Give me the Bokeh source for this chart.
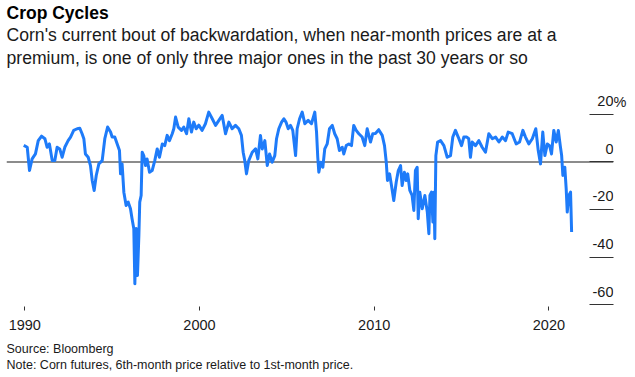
from bokeh.plotting import figure
from bokeh.models import Range1d, Span, Label, FixedTicker, Title, LinearAxis
from bokeh.embed import file_html
from bokeh.resources import INLINE

# ---------------- data ----------------
years = [
    1989.94, 1990.14, 1990.27, 1990.42, 1990.61, 1990.77, 1990.96, 1991.15, 1991.28, 1991.41,
    1991.57, 1991.72, 1991.85, 1992.00, 1992.14, 1992.29, 1992.48, 1992.62, 1992.80, 1993.00,
    1993.15, 1993.28, 1993.38, 1993.47, 1993.63, 1993.76, 1993.86, 1993.97, 1994.09, 1994.24,
    1994.43, 1994.58, 1994.74, 1994.91, 1995.00, 1995.15, 1995.29, 1995.42, 1995.48, 1995.57,
    1995.67, 1995.80, 1995.92, 1996.05, 1996.14, 1996.24, 1996.30, 1996.38, 1996.45, 1996.53,
    1996.58, 1996.66, 1996.72, 1996.81, 1996.91, 1997.00, 1997.14, 1997.29, 1997.44, 1997.58,
    1997.71, 1997.87, 1998.01, 1998.15, 1998.28, 1998.44, 1998.53, 1998.63, 1998.78, 1998.97,
    1999.10, 1999.26, 1999.39, 1999.54, 1999.67, 1999.81, 1999.96, 2000.15, 2000.34, 2000.53,
    2000.73, 2000.92, 2001.11, 2001.30, 2001.49, 2001.68, 2001.87, 2002.06, 2002.25, 2002.40,
    2002.50, 2002.59, 2002.69, 2002.82, 2003.02, 2003.21, 2003.34, 2003.49, 2003.59, 2003.74,
    2003.88, 2004.01, 2004.16, 2004.31, 2004.41, 2004.54, 2004.70, 2004.83, 2004.95, 2005.08,
    2005.21, 2005.34, 2005.50, 2005.59, 2005.73, 2005.88, 2006.03, 2006.22, 2006.41, 2006.60,
    2006.70, 2006.77, 2006.83, 2006.94, 2007.06, 2007.17, 2007.31, 2007.44, 2007.60, 2007.74,
    2007.88, 2008.01, 2008.17, 2008.26, 2008.40, 2008.55, 2008.70, 2008.83, 2008.97, 2009.12,
    2009.31, 2009.46, 2009.60, 2009.79, 2009.92, 2010.07, 2010.26, 2010.46, 2010.59, 2010.69,
    2010.76, 2010.88, 2010.99, 2011.12, 2011.26, 2011.38, 2011.51, 2011.60, 2011.73, 2011.83,
    2011.92, 2012.04, 2012.17, 2012.27, 2012.36, 2012.46, 2012.52, 2012.61, 2012.75, 2012.90,
    2013.04, 2013.13, 2013.19, 2013.28, 2013.36, 2013.42, 2013.47, 2013.53, 2013.63, 2013.80,
    2013.99, 2014.18, 2014.37, 2014.50, 2014.65, 2014.81, 2015.00, 2015.13, 2015.30, 2015.41,
    2015.51, 2015.61, 2015.80, 2015.99, 2016.18, 2016.37, 2016.56, 2016.76, 2016.95, 2017.14,
    2017.33, 2017.52, 2017.67, 2017.90, 2018.13, 2018.32, 2018.51, 2018.66, 2018.85, 2019.05,
    2019.25, 2019.39, 2019.52, 2019.65, 2019.77, 2019.91, 2020.04, 2020.15, 2020.28, 2020.42,
    2020.54, 2020.65, 2020.73, 2020.80, 2020.91, 2020.99, 2021.05, 2021.14, 2021.24, 2021.30,
]
values = [
    7.0, 6.2, -3.6, 1.3, 3.4, 9.0, 10.9, 9.8, 6.2, 7.6,
    0.6, 0.6, 6.2, 5.5, 2.0, 6.2, 9.0, 10.5, 13.3, 14.0,
    14.2, 11.9, 9.8, 3.4, 2.0, -1.5, -7.8, -12.0, -5.7, -0.8,
    0.6, 9.8, 14.7, 12.6, 10.5, 10.5, 7.6, 4.8, -5.0, -0.8,
    -12.7, -18.3, -16.9, -19.7, -23.9, -28.1, -51.3, -28.0, -47.8, -31.0,
    -16.9, -14.1, 4.1, 2.7, -1.5, 1.3, -4.3, -3.6, 0.6, 5.5,
    2.0, 7.6, 6.9, 11.2, 9.0, 11.9, 14.0, 18.9, 14.7, 13.3,
    14.7, 11.9, 18.2, 12.6, 16.8, 14.0, 15.5, 13.3, 16.1, 21.0,
    18.2, 15.4, 17.5, 19.6, 11.9, 16.8, 14.0, 15.4, 14.0, 11.2,
    4.1, 0.6, -5.0, 0.6, 4.1, 5.5, 1.3, 11.2, 5.5, 9.0,
    -1.5, 3.4, -0.1, 2.7, 9.8, 14.0, 16.8, 18.2, 16.8, 14.0,
    15.4, 13.3, 2.7, 14.0, 18.2, 21.0, 16.1, 17.5, 16.1, 21.0,
    12.6, 2.0, -4.3, -0.1, -2.2, 5.5, 7.6, 14.0, 15.4, 11.9,
    9.8, 4.8, 6.2, 3.4, 6.9, 7.6, 6.9, 15.4, 13.3, 11.9,
    10.5, 6.9, 14.0, 8.4, 11.9, 12.0, 13.6, 11.2, 6.9, 0.0,
    -7.8, -5.0, -9.9, -16.2, -8.5, -3.6, -1.5, -9.9, -4.3, -7.8,
    -5.0, -12.0, -14.1, -20.4, -3.6, -2.2, -23.9, -12.7, -19.7, -14.1,
    -21.1, -30.2, -14.1, -12.7, -25.3, -12.7, -32.3, 2.7, 8.4, 9.0,
    6.9, 2.0, 2.7, 10.5, 13.3, 10.5, 6.9, 10.5, 10.5, 9.8,
    2.0, 8.4, 6.9, 9.0, 6.2, 4.1, 11.9, 9.8, 10.5, 8.4,
    10.5, 9.0, 12.6, 11.9, 7.6, 8.4, 13.3, 10.5, 7.6, 9.8,
    14.0, 4.8, -0.8, 12.6, 2.7, 7.6, 6.9, 3.4, 13.3, 8.4,
    13.3, 6.9, 2.7, -5.7, -2.2, -11.3, -21.1, -14.1, -12.7, -29.5,
]
x_ticks = [1990, 2000, 2010, 2020]
y_ticks = [20, 0, -20, -40, -60]
y_tick_labels = ["20", "0", "-20", "-40", "-60"]
unit_label = "%"

title_text = "Crop Cycles"
subtitle_text = ("Corn's current bout of backwardation, when near-month prices are at a\n"
                 "premium, is one of only three major ones in the past 30 years or so")
footer_text = ("Source: Bloomberg\n"
               "Note: Corn futures, 6th-month price relative to 1st-month price.")

# ---------------- styling ----------------
FONT = "Liberation Sans"
BLUE = "#1e7bf9"
TEXT = "#1a1a1a"

x_start, x_end = 1988.953, 2023.698
y_start, y_end = -60.84, 30.1
FRAME_H = 216
label_lift = 12 * (y_end - y_start) / FRAME_H   # px lift expressed in data units

p = figure(
    width=635, height=377, output_backend="svg", toolbar_location=None,
    x_range=Range1d(x_start, x_end), y_range=Range1d(y_start, y_end),
    y_axis_location="right", title_location=None,
    min_border_left=6, min_border_right=22, min_border_top=90, min_border_bottom=71,
)
p.background_fill_color = "white"
p.border_fill_color = "white"
p.outline_line_color = None
p.xgrid.visible = False
p.ygrid.visible = False

# x axis
xa = p.xaxis[0]
xa.ticker = FixedTicker(ticks=x_ticks)
xa.axis_line_color = None
xa.major_tick_in = 0
xa.major_tick_out = 4
xa.major_tick_line_color = "#333333"
xa.minor_tick_line_color = None
xa.major_label_standoff = 9
xa.major_label_text_font = FONT
xa.major_label_text_font_size = "14.5px"
xa.major_label_text_color = TEXT

# y axis (right): ticks drawn inward as short rules under the labels
ya = p.yaxis[0]
ya.ticker = FixedTicker(ticks=y_ticks)
ya.axis_line_color = None
ya.major_tick_in = 24
ya.major_tick_out = 0
ya.major_tick_line_color = "#333333"
ya.minor_tick_line_color = None
ya.major_label_text_font_size = "0px"
ya.major_label_standoff = 0

# "%" unit placed just right of the top label (axis on a lifted copy of the range)
p.extra_y_ranges = {"lifted": Range1d(y_start - label_lift, y_end - label_lift)}
pa = LinearAxis(y_range_name="lifted", ticker=FixedTicker(ticks=[y_ticks[0]]),
                major_label_overrides={y_ticks[0]: unit_label})
pa.axis_line_color = None
pa.major_tick_in = 0
pa.major_tick_out = 0
pa.minor_tick_line_color = None
pa.major_label_standoff = 0
pa.major_label_text_align = "left"
pa.major_label_text_baseline = "alphabetic"
pa.major_label_text_font = FONT
pa.major_label_text_font_size = "14.5px"
pa.major_label_text_color = TEXT
p.add_layout(pa, "right")

# zero line
p.add_layout(Span(location=0, dimension="width", line_color="#666666",
                  line_width=1.3, level="underlay"))

# series
p.line(years, values, line_color=BLUE, line_width=3, line_join="round")

# y tick labels above the rules
for t, lab in zip(y_ticks, y_tick_labels):
    p.add_layout(Label(x=x_end, y=t, text=lab, text_align="right",
                       text_baseline="alphabetic", y_offset=13,
                       text_font=FONT, text_font_size="14.5px", text_color=TEXT))

# ---- titles above (first added = nearest the frame) ----
p.add_layout(Title(text=" ", text_font_size="1px", standoff=18.5), "above")
p.add_layout(Title(text=subtitle_text, align="left", offset=0, standoff=0,
                   text_font=FONT, text_font_size="17.6px", text_font_style="normal",
                   text_color=TEXT, text_line_height=1.165), "above")
p.add_layout(Title(text=title_text, align="left", offset=0, standoff=1,
                   text_font=FONT, text_font_size="17.5px", text_font_style="bold",
                   text_color="black"), "above")

# ---- footer below the x axis ----
p.add_layout(Title(text=" ", text_font_size="1px", standoff=4.5), "below")
p.add_layout(Title(text=footer_text, align="left", offset=0, standoff=0,
                   text_font=FONT, text_font_size="12.5px", text_font_style="normal",
                   text_color=TEXT, text_line_height=1.16), "below")

open("out.html", "w").write(file_html(p, INLINE))
